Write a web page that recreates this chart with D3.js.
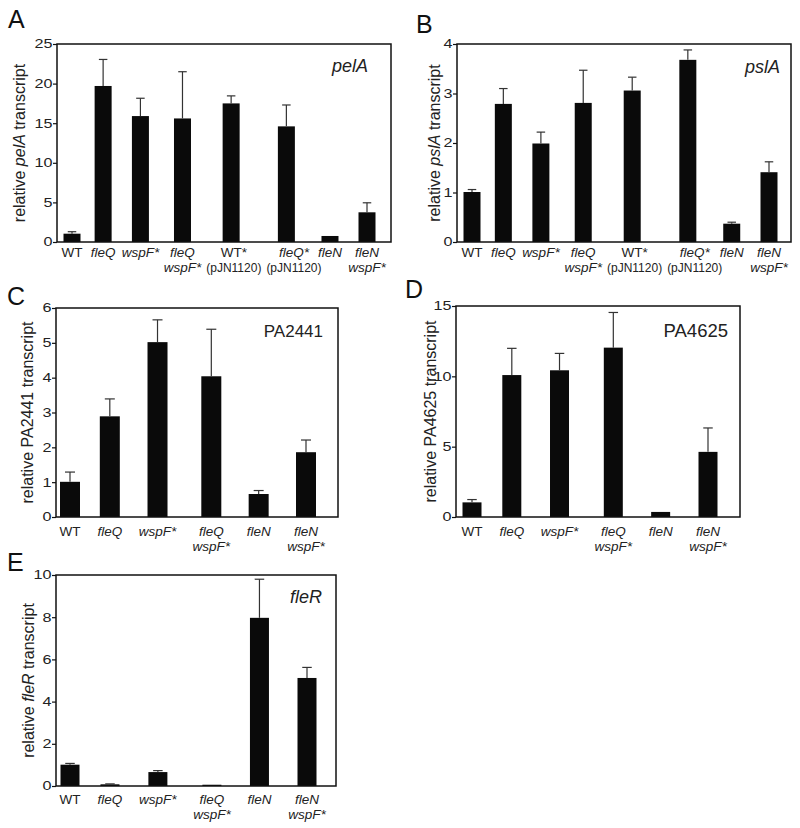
<!DOCTYPE html>
<html>
<head>
<meta charset="utf-8">
<script src="https://cdn.jsdelivr.net/npm/d3@7"></script>
<style>
  body { margin: 0; background: #fff; }
  svg { display: block; font-family: "Liberation Sans", Arial, sans-serif; }
</style>
</head>
<body>
<svg id="chart" width="800" height="828"></svg>
<script>
// ---------- DATA ----------
const catsAB = ["WT", "fleQ", "wspF*", "fleQ|wspF*", "WT*|(pJN1120)", "fleQ*|(pJN1120)", "fleN", "fleN|wspF*"];
const catsCDE = ["WT", "fleQ", "wspF*", "fleQ|wspF*", "fleN", "fleN|wspF*"];

const pelA = [1.05, 19.7, 15.9, 15.6, 17.5, 14.6, 0.76, 3.75];
const pelAErr = [0.25, 3.35, 2.25, 5.9, 0.95, 2.7, 0, 1.2];
const pelATicks = [0, 5, 10, 15, 20, 25];

const pslA = [1.01, 2.79, 1.99, 2.81, 3.06, 3.68, 0.37, 1.41];
const pslAErr = [0.05, 0.31, 0.23, 0.66, 0.27, 0.2, 0.03, 0.21];
const pslATicks = [0, 1, 2, 3, 4];

const pa2441 = [1.01, 2.89, 5.02, 4.04, 0.66, 1.86];
const pa2441Err = [0.28, 0.5, 0.64, 1.35, 0.1, 0.35];
const pa2441Ticks = [0, 1, 2, 3, 4, 5, 6];

const pa4625 = [1.04, 10.09, 10.43, 12.04, 0.36, 4.63];
const pa4625Err = [0.2, 1.9, 1.2, 2.5, 0, 1.7];
const pa4625Ticks = [0, 5, 10, 15];

const fleR = [1.01, 0.08, 0.66, 0.06, 7.97, 5.12];
const fleRErr = [0.06, 0.02, 0.07, 0, 1.83, 0.5];
const fleRTicks = [0, 2, 4, 6, 8, 10];

// ---------- LAYOUT ----------
const panels = [
  { letter: "A", lx: 8, ly: 28, cats: catsAB, vals: pelA, err: pelAErr, ticks: pelATicks,
    frame: [57, 391, 44, 242], span: [72, 367], bw: 17,
    gene: "pelA", geneItalic: true, gx: 368, gy: 72, gsize: 18, tx: 25, lab0: 14.5 },
  { letter: "B", lx: 416, ly: 33, cats: catsAB, vals: pslA, err: pslAErr, ticks: pslATicks,
    frame: [457, 791, 44, 242], span: [472, 769], bw: 17,
    gene: "pslA", geneItalic: true, gx: 780, gy: 73, gsize: 18, tx: 440, lab0: 14.5 },
  { letter: "C", lx: 7, ly: 305, cats: catsCDE, vals: pa2441, err: pa2441Err, ticks: pa2441Ticks,
    frame: [56, 338, 308, 517], span: [70, 306], bw: 20,
    gene: "PA2441", geneItalic: false, gx: 323, gy: 337, gsize: 17, tx: 33, lab0: 19 },
  { letter: "D", lx: 405, ly: 298, cats: catsCDE, vals: pa4625, err: pa4625Err, ticks: pa4625Ticks,
    frame: [456, 740, 306, 517], span: [472, 708], bw: 19,
    gene: "PA4625", geneItalic: false, gx: 728, gy: 337, gsize: 18.5, tx: 436, lab0: 19 },
  { letter: "E", lx: 7, ly: 571, cats: catsCDE, vals: fleR, err: fleRErr, ticks: fleRTicks,
    frame: [56, 336, 575, 786], span: [70, 307], bw: 19,
    gene: "fleR", geneItalic: true, gx: 322, gy: 603, gsize: 18, tx: 34, lab0: 18 }
];

const svg = d3.select("#chart");
const LABEL_SIZE = 13.5;
const PAREN_SIZE = 12;
const LINE_STEP = 15;

function isPlain(s) { return s.startsWith("WT") || s.startsWith("(") || s.startsWith("PA"); }
function lineSize(s) { return s.startsWith("(") ? PAREN_SIZE : LABEL_SIZE; }

// measure label line widths
const meas = svg.append("text").attr("x", -1000).attr("y", -1000);
function lineWidth(s) {
  meas.attr("font-size", lineSize(s)).attr("font-style", isPlain(s) ? "normal" : "italic").text(s);
  return meas.node().getComputedTextLength();
}

panels.forEach(p => {
  const [x0, x1, y0, y1] = p.frame;
  const g = svg.append("g");

  // category slots sized by their label widths
  const lineW = p.cats.map(c => c.split("|").map(lineWidth));
  const blockW = lineW.map(a => d3.max(a));
  const slot = blockW.map(w => 0.8 * w + 15);
  const cum = d3.cumsum(slot).map((v, i) => v - slot[i] / 2);
  const xs = d3.scaleLinear().domain([cum[0], cum[cum.length - 1]]).range(p.span);
  const x = d3.scaleOrdinal().domain(p.cats).range(cum.map(v => xs(v)));
  const bw = p.bw;

  const y = d3.scaleLinear().domain([0, d3.max(p.ticks)]).range([y1, y0]);

  // panel letter
  svg.append("text").attr("x", p.lx).attr("y", p.ly)
    .attr("font-size", 25).attr("fill", "#111").text(p.letter);

  // bars
  g.selectAll("rect.bar").data(p.cats).join("rect")
    .attr("class", "bar")
    .attr("x", d => x(d) - bw / 2)
    .attr("width", bw)
    .attr("y", (d, i) => y(p.vals[i]))
    .attr("height", (d, i) => y(0) - y(p.vals[i]))
    .attr("fill", "#0a0a0a");

  // error bars (upper only)
  const cw = bw * 0.5;
  p.cats.forEach((c, i) => {
    if (p.err[i] <= 0) return;
    const cx = x(c);
    const top = y(p.vals[i] + p.err[i]);
    g.append("line").attr("x1", cx).attr("x2", cx)
      .attr("y1", y(p.vals[i])).attr("y2", top)
      .attr("stroke", "#333").attr("stroke-width", 1.2);
    g.append("line").attr("x1", cx - cw / 2).attr("x2", cx + cw / 2)
      .attr("y1", top).attr("y2", top)
      .attr("stroke", "#333").attr("stroke-width", 1.2);
  });

  // frame
  g.append("rect").attr("x", x0).attr("y", y0)
    .attr("width", x1 - x0).attr("height", y1 - y0)
    .attr("fill", "none").attr("stroke", "#111").attr("stroke-width", 1.5);

  // y axis
  const ax = g.append("g").attr("transform", `translate(${x0},0)`)
    .call(d3.axisLeft(y).tickValues(p.ticks).tickFormat(d3.format("d"))
      .tickSize(4).tickPadding(0.5).tickSizeOuter(0));
  ax.select(".domain").remove();
  ax.selectAll(".tick line").attr("stroke", "#111").attr("stroke-width", 1.2);
  const sx = 1.35;
  ax.selectAll(".tick text")
    .attr("font-size", 12)
    .attr("font-family", "'Liberation Sans', Arial, sans-serif")
    .attr("fill", "#222")
    .attr("x", -4.5 / sx)
    .attr("transform", `scale(${sx},1)`);

  // category labels: centred under bars, nudged right only if lines would collide
  const gap = 5;
  const lc = [];
  p.cats.forEach((c, i) => {
    let pos = x(c);
    if (i > 0) {
      const prev = lineW[i - 1], cur = lineW[i];
      let need = -Infinity;
      for (let k = 0; k < Math.min(prev.length, cur.length); k++) {
        need = Math.max(need, lc[i - 1] + prev[k] / 2 + cur[k] / 2 + gap);
      }
      pos = Math.max(pos, need);
    }
    lc.push(pos);
  });
  p.cats.forEach((c, i) => {
    const lines = c.split("|");
    const t = g.append("text").attr("text-anchor", "middle").attr("fill", "#222");
    lines.forEach((ln, k) => {
      t.append("tspan").attr("x", lc[i]).attr("y", y1 + p.lab0 + k * LINE_STEP)
        .attr("font-size", lineSize(ln))
        .attr("font-style", isPlain(ln) ? "normal" : "italic")
        .text(ln);
    });
  });

  // y axis title
  const ty = (y0 + y1) / 2;
  const title = g.append("text")
    .attr("transform", `translate(${p.tx},${ty}) rotate(-90)`)
    .attr("text-anchor", "middle").attr("font-size", 16).attr("fill", "#222");
  title.append("tspan").text("relative ");
  title.append("tspan").attr("font-style", p.geneItalic ? "italic" : "normal").text(p.gene);
  title.append("tspan").text(" transcript");

  // gene label inside
  g.append("text").attr("x", p.gx).attr("y", p.gy)
    .attr("text-anchor", "end").attr("font-size", p.gsize)
    .attr("font-style", p.geneItalic ? "italic" : "normal")
    .attr("fill", "#222").text(p.gene);
});
meas.remove();
</script>
</body>
</html>
